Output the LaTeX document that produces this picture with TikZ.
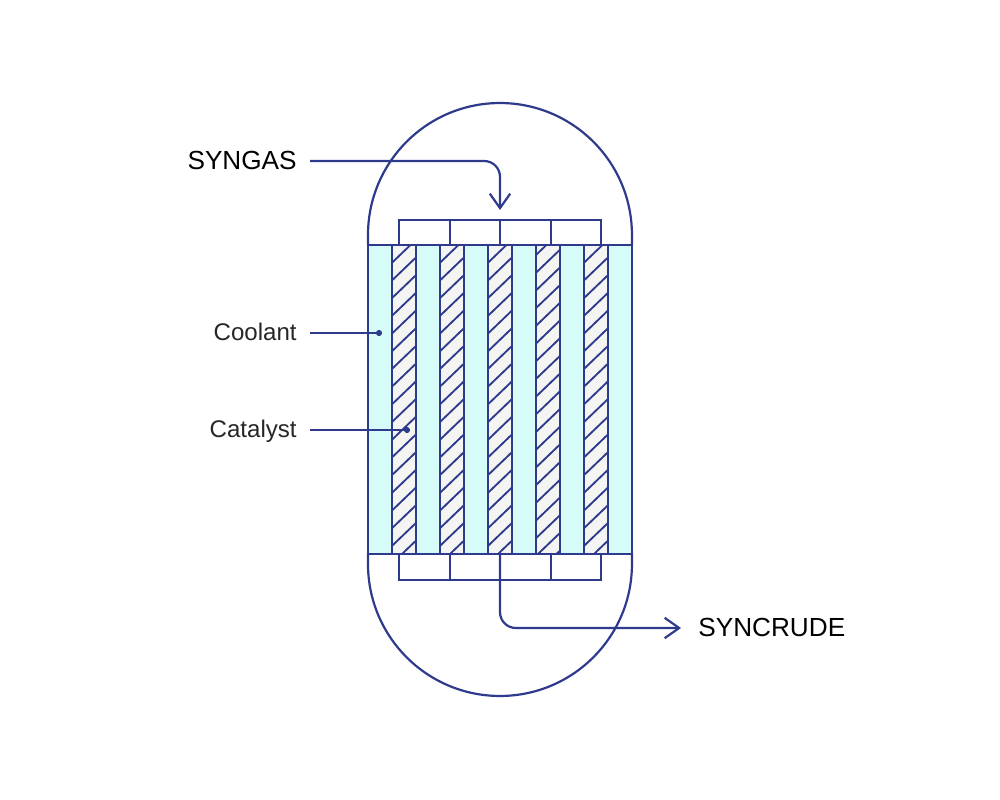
\documentclass[tikz,border=0pt]{standalone}
\usepackage{fontspec}
\setmainfont{Liberation Sans}
\usetikzlibrary{arrows.meta}
\definecolor{ink}{HTML}{2E3A8C}
\definecolor{coolfill}{HTML}{D6FBF8}
\definecolor{catfill}{HTML}{F4F5F3}
\tikzset{
  x=0.02cm,y=-0.02cm,
  line/.style={draw=ink,line width=1.25pt},
  divider/.style={draw=ink,line width=1.25pt},
  hatchline/.style={draw=ink,line width=1.05pt},
  lead/.style={line,-{Straight Barb[length=8.2pt,width=11.6pt,line width=1.25pt]}},
  biglabel/.style={font=\fontsize{14.9pt}{18pt}\selectfont,text=black,inner sep=0pt},
  smalllabel/.style={font=\fontsize{13.7pt}{16pt}\selectfont,text=black!85,inner sep=0pt},
  dot/.style={circle,fill=ink,inner sep=0pt,minimum size=3.5pt},
}
\begin{document}
\begin{tikzpicture}
\useasboundingbox (0,0) rectangle (1000,800);
% vessel
\draw[line] (368,245) -- (368,235) arc[start angle=180,end angle=0,radius=2.64cm] -- (632,245);
\draw[line] (368,554) -- (368,564) arc[start angle=180,end angle=360,radius=2.64cm] -- (632,554);
% columns
\foreach \xx in {368,416,464,512,560,608}{
  \fill[coolfill] (\xx,245) rectangle (\xx+24,554);
}
\foreach \xx/\ph in {392/262.7,440/262.7,488/262.7,536/255,584/262.7}{
  \fill[catfill] (\xx,245) rectangle (\xx+24,554);
  \begin{scope}
    \clip (\xx,245) rectangle (\xx+24,554);
    \foreach \k in {0,...,18}{
      \draw[hatchline] (\xx,\ph+\k*17.7) -- (\xx+24,\ph-23+\k*17.7);
    }
  \end{scope}
  \draw[line] (\xx,245) -- (\xx,554);
  \draw[line] (\xx+24,245) -- (\xx+24,554);
}
\draw[line] (368,245) rectangle (632,554);
% distributor boxes
\draw[line] (399,245) rectangle (601,219.8);
\draw[line] (399,554) rectangle (601,580);
\foreach \a in {449.8,550.8}{
  \draw[divider] (\a,219.8) -- (\a,245);
  \draw[divider] (\a,554) -- (\a,580);
}
\draw[line] (500,219.8) -- (500,245);
% labels
\node[biglabel,anchor=east] (syngas) at (297,160.5) {SYNGAS};
\node[biglabel,anchor=west] (syncrude) at (698,627) {SYNCRUDE};
\node[smalllabel,anchor=east] (coolant) at (297,332) {Coolant};
\node[smalllabel,anchor=east] (catalyst) at (297,431) {Catalyst};
\node[dot] (cooldot) at (379,333) {};
\node[dot] (catdot) at (407,430) {};
\coordinate (synin) at (500,210);
\coordinate (synout) at (500,554);
\coordinate (synend) at (681,628);
% connectors
\draw[lead] ([xshift=0.26cm]syngas.east |- 0,161) -- ++(174,0) coordinate (c1)
  .. controls +(9,0) and (500,168) .. (500,177) -- (synin);
\draw[lead] (synout) -- (500,612) .. controls (500,621) and (507,628) .. (516,628) -- (synend);
\draw[line] ([xshift=0.26cm]coolant.east |- cooldot) -- (cooldot);
\draw[line] ([xshift=0.26cm]catalyst.east |- catdot) -- (catdot);
\end{tikzpicture}
\end{document}
